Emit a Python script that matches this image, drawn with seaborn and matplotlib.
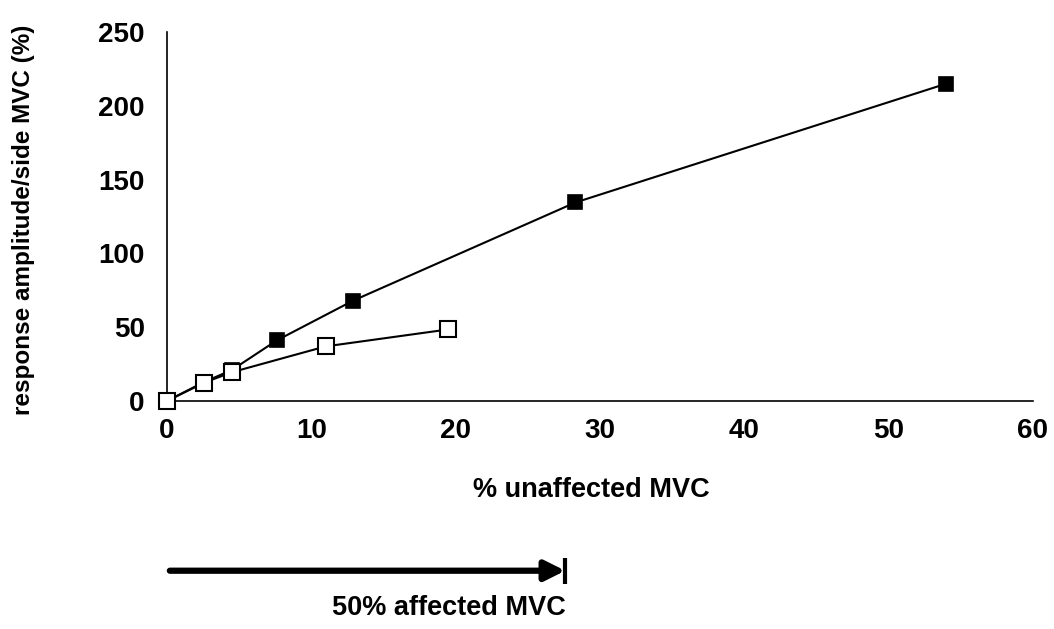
import matplotlib
matplotlib.use("Agg")
import matplotlib.pyplot as plt
import seaborn as sns
import pandas as pd

# Response amplitude against % unaffected MVC, two conditions
filled_x = [0.0, 2.6, 4.5, 7.6, 12.9, 28.3, 54.0]
filled_y = [0.0, 13.0, 21.0, 41.0, 68.0, 134.5, 215.0]
open_x = [0.0, 2.6, 4.5, 11.0, 19.5]
open_y = [0.0, 12.5, 19.5, 37.0, 48.5]

x_ticks = [0, 10, 20, 30, 40, 50, 60]
y_ticks = [0, 50, 100, 150, 200, 250]

# Position on the % unaffected MVC scale that equals 50% affected MVC
affected_50 = 27.6
arrow_start = 0.2

sns.set_theme(style="white")
plt.rcParams["font.family"] = ["Liberation Sans", "DejaVu Sans"]
plt.rcParams["font.weight"] = "bold"
for key in ("text.color", "axes.labelcolor", "xtick.color", "ytick.color"):
    plt.rcParams[key] = "black"

fig = plt.figure(figsize=(10.54, 6.29), dpi=100)
ax = fig.add_axes([0.1584, 0.3625, 0.8216, 0.5866])

df_filled = pd.DataFrame({"x": filled_x, "y": filled_y})
df_open = pd.DataFrame({"x": open_x, "y": open_y})

sns.lineplot(data=df_filled, x="x", y="y", ax=ax, color="black", lw=1.5,
             marker="s", markersize=10.5, markerfacecolor="black",
             markeredgecolor="black", markeredgewidth=1.2, zorder=3,
             clip_on=False)
sns.lineplot(data=df_open, x="x", y="y", ax=ax, color="black", lw=1.5,
             marker="s", markersize=11.5, markerfacecolor="white",
             markeredgecolor="black", markeredgewidth=1.5, zorder=4,
             clip_on=False)

ax.set_xlim(0, 60)
ax.set_ylim(0, 250)
ax.set_xticks(x_ticks)
ax.set_yticks(y_ticks)
ax.set_xticklabels([str(v) for v in x_ticks], fontsize=20, fontweight="bold")
ax.set_yticklabels([str(v) for v in y_ticks], fontsize=20, fontweight="bold")

for side in ("top", "right"):
    ax.spines[side].set_visible(False)
for side in ("left", "bottom"):
    ax.spines[side].set_color("black")
    ax.spines[side].set_linewidth(1.2)

ax.tick_params(axis="x", direction="out", length=5, width=1, pad=7)
ax.tick_params(axis="y", direction="out", length=7, width=1, pad=9)
ax.grid(False)

ax.set_xlabel("% unaffected MVC", fontsize=19.5, fontweight="bold")
ax.set_ylabel("response amplitude/side MVC (%)", fontsize=17.5, fontweight="bold")
ax.xaxis.set_label_coords(0.49, -0.205)
ax.yaxis.set_label_coords(-0.152, 0.49)

# Arrow below the axis marking 50% of affected-side MVC
ax.annotate("", xy=(affected_50, -0.46), xytext=(arrow_start, -0.46),
            xycoords=("data", "axes fraction"), textcoords=("data", "axes fraction"),
            arrowprops=dict(arrowstyle="-|>,head_length=1.0,head_width=0.5",
                            color="black", lw=4.5, shrinkA=0, shrinkB=0),
            annotation_clip=False)
ax.plot([affected_50, affected_50], [-0.495, -0.425], color="black", lw=3,
        transform=ax.get_xaxis_transform(), clip_on=False, solid_capstyle="butt")
ax.text(affected_50, -0.525, "50% affected MVC", transform=ax.get_xaxis_transform(),
        ha="right", va="top", fontsize=19.5, fontweight="bold")

fig.savefig("out.png", dpi=100)
